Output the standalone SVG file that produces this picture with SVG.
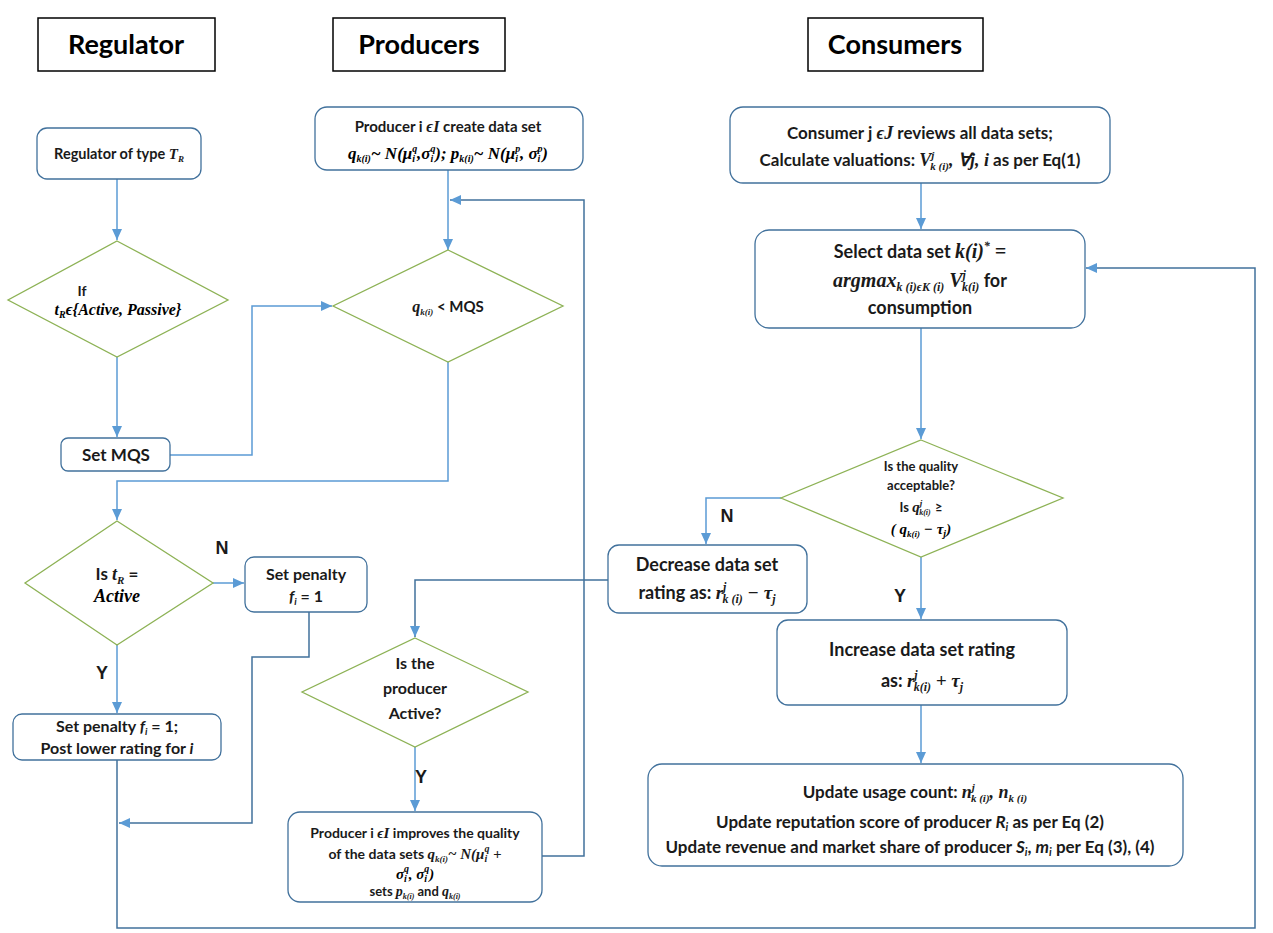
<svg xmlns="http://www.w3.org/2000/svg" width="1273" height="933" viewBox="0 0 1273 933">
<style>
.box{fill:#fff;stroke:#41719C;stroke-width:1.3}
.dia{fill:#fff;stroke:#8DB255;stroke-width:1.3}
.hdr{fill:#fff;stroke:#000;stroke-width:1.5}
.t{font-family:Lato,"Liberation Sans",sans-serif;font-weight:bold;fill:#1a1a1a;text-anchor:middle}
.m{font-family:"Liberation Serif",serif;font-style:italic;font-weight:bold}
.h{font-family:Lato,"Liberation Sans",sans-serif;font-weight:bold;font-size:27px;fill:#000;text-anchor:middle}
.lbl{font-family:"Liberation Sans",sans-serif;font-weight:bold;font-size:18px;fill:#1a1a1a;text-anchor:middle}
.c{fill:none;stroke:#5B9BD5;stroke-width:1.5}
.d{stroke:#41719C}
</style>
<defs>
<marker id="a" markerUnits="userSpaceOnUse" markerWidth="11" markerHeight="10" refX="11" refY="5" orient="auto">
<path d="M0,0 L11,5 L0,10 z" fill="#5B9BD5"/>
</marker>
</defs>
<rect width="1273" height="933" fill="#fff"/>

<g id="headers">
<rect class="hdr" x="38" y="18" width="177" height="53"/>
<text class="h" x="126" y="54">Regulator</text>
<rect class="hdr" x="333" y="18" width="172" height="53"/>
<text class="h" x="419" y="54">Producers</text>
<rect class="hdr" x="808" y="18" width="175" height="53"/>
<text class="h" x="895" y="54">Consumers</text>
</g>

<g id="connectors">
<path class="c" d="M117,179 V240" marker-end="url(#a)"/>
<path class="c" d="M117,357 V437" marker-end="url(#a)"/>
<path class="c" d="M170,455 H252 V306 H332" marker-end="url(#a)"/>
<path class="c" d="M448,170 V250" marker-end="url(#a)"/>
<path class="c d" d="M542,856 H584 V200 H450" marker-end="url(#a)"/>
<path class="c" d="M448,362 V481 H117 V520" marker-end="url(#a)"/>
<path class="c" d="M213,583 H244" marker-end="url(#a)"/>
<path class="c" d="M117,645 V713" marker-end="url(#a)"/>
<path class="c d" d="M309,612 V657 H252 V823 H119" marker-end="url(#a)"/>
<path class="c d" d="M117,760 V928 H1255 V268 H1086" marker-end="url(#a)"/>
<path class="c" d="M921,183 V229" marker-end="url(#a)"/>
<path class="c" d="M921,328 V439" marker-end="url(#a)"/>
<path class="c" d="M781,498 H706 V544" marker-end="url(#a)"/>
<path class="c d" d="M608,580 H415 V637" marker-end="url(#a)"/>
<path class="c" d="M415,747 V811" marker-end="url(#a)"/>
<path class="c" d="M921,557 V619" marker-end="url(#a)"/>
<path class="c" d="M921,705 V763" marker-end="url(#a)"/>
</g>

<g id="labels">
<text class="lbl" x="222" y="554">N</text>
<text class="lbl" x="102" y="679">Y</text>
<text class="lbl" x="421" y="783">Y</text>
<text class="lbl" x="727" y="522">N</text>
<text class="lbl" x="900" y="602">Y</text>
</g>

<g id="reg-type">
<rect class="box" x="37" y="128" width="164" height="51" rx="10"/>
<text class="t" x="119" y="159" font-size="14.5">Regulator of type <tspan class="m" font-size="15">T</tspan><tspan class="m" font-size="9" dy="3">R</tspan></text>
</g>

<g id="if-dia">
<polygon class="dia" points="117,241 228,300 117,357 8,300"/>
<text class="t" x="82" y="296" font-size="14" text-anchor="start">If</text>
<text class="m" x="118" y="315" font-size="16" text-anchor="middle">t<tspan font-size="10" dy="3">R</tspan><tspan dy="-3">ϵ{Active, Passive}</tspan></text>
</g>

<g id="set-mqs">
<rect class="box" x="61" y="438" width="109" height="33" rx="7"/>
<text class="t" x="116" y="461" font-size="17">Set MQS</text>
</g>

<g id="prod-create">
<rect class="box" x="315" y="107" width="268" height="63" rx="12"/>
<text class="t" x="448" y="132" font-size="15">Producer i <tspan class="m" font-size="16">ϵI</tspan> create data set</text>
<text class="m" x="448" y="159" font-size="17" text-anchor="middle">q<tspan font-size="10" dy="3">k(i)</tspan><tspan dy="-3">~ N(μ</tspan><tspan font-size="10" dy="-7">q</tspan><tspan font-size="10" dx="-5" dy="10">i</tspan><tspan dx="2" dy="-3">,σ</tspan><tspan font-size="10" dy="-7">q</tspan><tspan font-size="10" dx="-5" dy="10">i</tspan><tspan dx="2" dy="-3">); p</tspan><tspan font-size="10" dy="3">k(i)</tspan><tspan dy="-3">~ N(μ</tspan><tspan font-size="10" dy="-7">p</tspan><tspan font-size="10" dx="-5" dy="10">i</tspan><tspan dx="2" dy="-3">, σ</tspan><tspan font-size="10" dy="-7">p</tspan><tspan font-size="10" dx="-5" dy="10">i</tspan><tspan dx="2" dy="-3">)</tspan></text>
</g>

<g id="q-mqs">
<polygon class="dia" points="448,250 563,306 448,362 333,306"/>
<text class="t" x="448" y="312" font-size="15"><tspan class="m" font-size="16">q</tspan><tspan class="m" font-size="9" dy="3">k(i)</tspan><tspan dy="-3"> &lt; MQS</tspan></text>
</g>

<g id="is-tr">
<polygon class="dia" points="117,521 213,583 117,645 25,583"/>
<text class="t" x="117" y="580" font-size="17">Is <tspan class="m" font-size="18">t</tspan><tspan class="m" font-size="11" dy="4">R</tspan><tspan dy="-4"> =</tspan></text>
<text class="m" x="117" y="602" font-size="18" text-anchor="middle">Active</text>
</g>

<g id="set-penalty">
<rect class="box" x="245" y="557" width="122" height="55" rx="9"/>
<text class="t" x="306" y="580" font-size="16">Set penalty</text>
<text class="t" x="306" y="602" font-size="16"><tspan font-style="italic">f</tspan><tspan font-style="italic" font-size="10" dy="3">i</tspan><tspan dy="-3"> = 1</tspan></text>
</g>

<g id="set-penalty-post">
<rect class="box" x="13" y="714" width="208" height="46" rx="9"/>
<text class="t" x="117" y="732" font-size="16">Set penalty <tspan font-style="italic">f</tspan><tspan font-style="italic" font-size="10" dy="3">i</tspan><tspan dy="-3"> = 1;</tspan></text>
<text class="t" x="117" y="754" font-size="16">Post lower rating for <tspan font-style="italic">i</tspan></text>
</g>

<g id="prod-active">
<polygon class="dia" points="415,638 528,692 415,747 302,692"/>
<text class="t" x="415" y="669" font-size="16">Is the</text>
<text class="t" x="415" y="694" font-size="16">producer</text>
<text class="t" x="415" y="719" font-size="16">Active?</text>
</g>

<g id="prod-improve">
<rect class="box" x="288" y="812" width="254" height="90" rx="12"/>
<text class="t" x="415" y="838" font-size="14">Producer i <tspan class="m" font-size="15">ϵI</tspan> improves the quality</text>
<text class="t" x="415" y="859" font-size="14">of the data sets <tspan class="m" font-size="15">q</tspan><tspan class="m" font-size="9" dy="3">k(i)</tspan><tspan class="m" font-size="15" dy="-3">~ N(μ</tspan><tspan class="m" font-size="10" dy="-7">q</tspan><tspan class="m" font-size="10" dx="-5" dy="10">i</tspan><tspan class="m" font-size="15" dx="2" dy="-3"> +</tspan></text>
<text class="m" x="415" y="879" font-size="15" text-anchor="middle">σ<tspan font-size="10" dy="-7">q</tspan><tspan font-size="10" dx="-5" dy="10">i</tspan><tspan dx="2" dy="-3">, σ</tspan><tspan font-size="10" dy="-7">q</tspan><tspan font-size="10" dx="-5" dy="10">i</tspan><tspan dx="2" dy="-3">)</tspan></text>
<text class="t" x="415" y="896" font-size="13">sets <tspan class="m" font-size="14">p</tspan><tspan class="m" font-size="8" dy="3">k(i)</tspan><tspan dy="-3"> and </tspan><tspan class="m" font-size="14">q</tspan><tspan class="m" font-size="8" dy="3">k(i)</tspan></text>
</g>

<g id="cons-review">
<rect class="box" x="730" y="107" width="380" height="76" rx="13"/>
<text class="t" x="920" y="139" font-size="17">Consumer j <tspan class="m" font-size="18">ϵJ</tspan> reviews all data sets;</text>
<text class="t" x="920" y="166" font-size="17">Calculate valuations: <tspan class="m" font-size="18">V</tspan><tspan class="m" font-size="11" dy="-7">j</tspan><tspan class="m" font-size="11" dx="-4" dy="11">k (i)</tspan><tspan class="m" font-size="18" dy="-4">, ∀j, i</tspan> as per Eq(1)</text>
</g>

<g id="cons-select">
<rect class="box" x="755" y="230" width="330" height="98" rx="14"/>
<text class="t" x="920" y="258" font-size="18">Select data set <tspan class="m" font-size="20">k(i)</tspan><tspan class="m" font-size="12" dy="-8">*</tspan><tspan class="m" font-size="20" dy="8"> =</tspan></text>
<text class="t" x="920" y="287" font-size="18"><tspan class="m" font-size="20">argmax</tspan><tspan class="m" font-size="12" dy="4">k (i)ϵK (i)</tspan><tspan class="m" font-size="20" dy="-4"> V</tspan><tspan class="m" font-size="12" dy="-8">j</tspan><tspan class="m" font-size="12" dx="-4" dy="12">k(i)</tspan><tspan dy="-4"> for</tspan></text>
<text class="t" x="920" y="314" font-size="18">consumption</text>
</g>

<g id="quality">
<polygon class="dia" points="921,440 1063,498 921,557 781,498"/>
<text class="t" x="921" y="471" font-size="13">Is the quality</text>
<text class="t" x="921" y="490" font-size="13">acceptable?</text>
<text class="t" x="921" y="512" font-size="13">Is <tspan class="m" font-size="15">q</tspan><tspan class="m" font-size="9" dy="-6">j</tspan><tspan class="m" font-size="8" dx="-3" dy="9">k(i)</tspan><tspan dx="1" dy="-3"> ≥</tspan></text>
<text class="m" x="921" y="534" font-size="15" text-anchor="middle">( q<tspan font-size="9" dy="3">k(i)</tspan><tspan dy="-3"> − τ</tspan><tspan font-size="10" dy="3">j</tspan><tspan dy="-3">)</tspan></text>
</g>

<g id="decrease">
<rect class="box" x="608" y="545" width="199" height="68" rx="11"/>
<text class="t" x="707" y="571" font-size="18">Decrease data set</text>
<text class="t" x="707" y="599" font-size="18">rating as: <tspan class="m" font-size="19">r</tspan><tspan class="m" font-size="12" dy="-8">j</tspan><tspan class="m" font-size="12" dx="-4" dy="12">k (i)</tspan><tspan class="m" font-size="19" dy="-4"> − τ</tspan><tspan class="m" font-size="12" dy="4">j</tspan></text>
</g>

<g id="increase">
<rect class="box" x="777" y="620" width="290" height="85" rx="11"/>
<text class="t" x="922" y="656" font-size="18">Increase data set rating</text>
<text class="t" x="922" y="687" font-size="18">as: <tspan class="m" font-size="19">r</tspan><tspan class="m" font-size="12" dy="-8">j</tspan><tspan class="m" font-size="12" dx="-4" dy="12">k(i)</tspan><tspan class="m" font-size="19" dy="-4"> + τ</tspan><tspan class="m" font-size="12" dy="4">j</tspan></text>
</g>

<g id="update">
<rect class="box" x="648" y="764" width="535" height="102" rx="14"/>
<text class="t" x="915" y="798" font-size="17">Update usage count: <tspan class="m" font-size="18">n</tspan><tspan class="m" font-size="11" dy="-7">j</tspan><tspan class="m" font-size="11" dx="-4" dy="11">k (i)</tspan><tspan class="m" font-size="18" dy="-4">, n</tspan><tspan class="m" font-size="11" dy="4">k (i)</tspan></text>
<text class="t" x="910" y="828" font-size="17">Update reputation score of producer <tspan font-style="italic">R</tspan><tspan font-style="italic" font-size="11" dy="3">i</tspan><tspan dy="-3"> as per Eq (2)</tspan></text>
<text class="t" x="910" y="853" font-size="17">Update revenue and market share of producer <tspan font-style="italic">S</tspan><tspan font-style="italic" font-size="11" dy="3">i</tspan><tspan dy="-3">, </tspan><tspan font-style="italic">m</tspan><tspan font-style="italic" font-size="11" dy="3">i</tspan><tspan dy="-3"> per Eq (3), (4)</tspan></text>
</g>
</svg>
